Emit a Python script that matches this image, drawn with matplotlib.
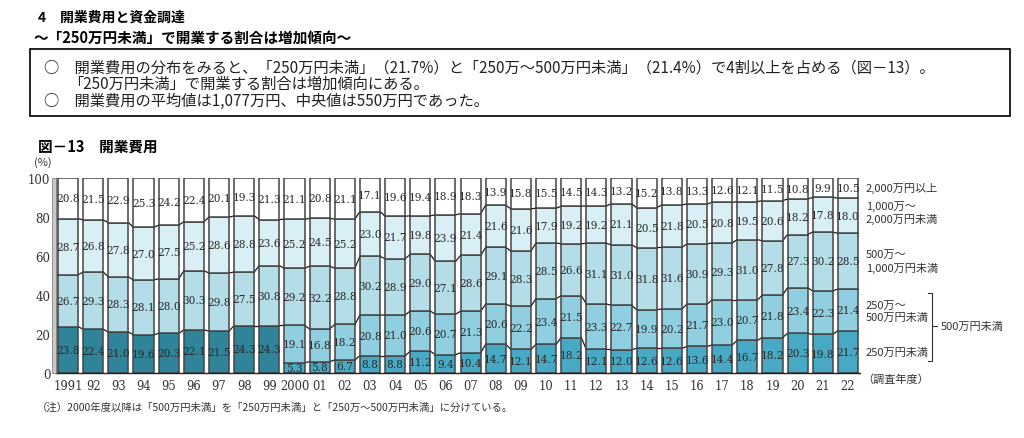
import numpy as np
import matplotlib.pyplot as plt
from matplotlib.lines import Line2D
from matplotlib.patches import Rectangle

plt.rcParams['font.family'] = ['Noto Sans CJK JP', 'DejaVu Sans']

# ---- data (%) ----
year_labels = ['1991', '92', '93', '94', '95', '96', '97', '98', '99', '2000',
               '01', '02', '03', '04', '05', '06', '07', '08', '09', '10',
               '11', '12', '13', '14', '15', '16', '17', '18', '19', '20',
               '21', '22']
# 1991-1999: 500万円未満 (not split)
under500_old = [23.8, 22.4, 21.0, 19.6, 20.3, 22.1, 21.5, 24.3, 24.3]
# 2000-2022
under250 = [5.3, 5.8, 6.7, 8.8, 8.8, 11.2, 9.4, 10.4, 14.7, 12.1, 14.7, 18.2,
            12.1, 12.0, 12.6, 12.6, 13.6, 14.4, 16.7, 18.2, 20.3, 19.8, 21.7]
r250_500 = [19.1, 16.8, 18.2, 20.8, 21.0, 20.6, 20.7, 21.3, 20.6, 22.2, 23.4, 21.5,
            23.3, 22.7, 19.9, 20.2, 21.7, 23.0, 20.7, 21.8, 23.4, 22.3, 21.4]
# 1991-2022
r500_1000 = [26.7, 29.3, 28.3, 28.1, 28.0, 30.3, 29.8, 27.5, 30.8, 29.2, 32.2, 28.8,
             30.2, 28.9, 29.0, 27.1, 28.6, 29.1, 28.3, 28.5, 26.6, 31.1, 31.0, 31.8,
             31.6, 30.9, 29.3, 31.0, 27.8, 27.3, 30.2, 28.5]
r1000_2000 = [28.7, 26.8, 27.8, 27.0, 27.5, 25.2, 28.6, 28.8, 23.6, 25.2, 24.5, 25.2,
              23.0, 21.7, 19.8, 23.9, 21.4, 21.6, 21.6, 17.9, 19.2, 19.2, 21.1, 20.5,
              21.8, 20.5, 20.8, 19.5, 20.6, 18.2, 17.8, 18.0]
over2000 = [20.8, 21.5, 22.9, 25.3, 24.2, 22.4, 20.1, 19.3, 21.3, 21.1, 20.8, 21.1,
            17.1, 19.6, 19.4, 18.9, 18.3, 13.9, 15.8, 15.5, 14.5, 14.3, 13.2, 15.2,
            13.8, 13.3, 12.6, 12.1, 11.5, 10.8, 9.9, 10.5]

n = len(year_labels)
n_old = len(under500_old)
pad_new = [np.nan] * n_old
pad_old = [np.nan] * (n - n_old)

segments = [
    (np.array(under500_old + pad_old), '#2f8499'),
    (np.array(pad_new + under250), '#47a9c3'),
    (np.array(pad_new + r250_500), '#90cfe0'),
    (np.array(r500_1000), '#b5dde8'),
    (np.array(r1000_2000), '#d9eff6'),
    (np.array(over2000), '#ffffff'),
]

W, H = 1024, 439
fig = plt.figure(figsize=(W / 100, H / 100), dpi=100)


def fx(x):
    return x / W


def fy(y):
    return 1 - y / H


ax = fig.add_axes([fx(56), fy(374), fx(860) - fx(56), fy(179) - fy(374)])

x = np.arange(n)
w = 0.8
bottom = np.zeros(n)
tops = []
for vals, col in segments:
    v = np.nan_to_num(vals)
    ax.bar(x, v, w, bottom=bottom, color=col, edgecolor='#444444',
           linewidth=1.1, zorder=2)
    for i in range(n):
        if v[i] > 0:
            ax.text(x[i], bottom[i] + v[i] / 2, f'{v[i]:.1f}', ha='center',
                    va='center', fontsize=7.6, family='DejaVu Serif',
                    color='#2a2a2a', zorder=3)
    bottom = bottom + v
    top = bottom.copy()
    top[np.isnan(vals)] = np.nan
    tops.append(top)

# series connector lines between neighbouring bars
boundary_a = tops[2].copy()
boundary_a[:n_old] = tops[0][:n_old]
for b in [tops[1], boundary_a, tops[3], tops[4]]:
    for i in range(n - 1):
        if np.isfinite(b[i]) and np.isfinite(b[i + 1]):
            ax.plot([x[i] + w / 2, x[i + 1] - w / 2], [b[i], b[i + 1]],
                    color='#1a1a1a', lw=0.9, zorder=1)
    if np.isfinite(b[0]):
        ax.plot([-0.48, x[0] - w / 2], [b[0], b[0]], color='#1a1a1a', lw=0.9,
                zorder=1)

ax.set_xlim(-0.48, n - 0.52)
ax.set_ylim(0, 100)
ax.set_yticks([0, 20, 40, 60, 80, 100])
ax.set_yticklabels(['0', '20', '40', '60', '80', '100'], family='DejaVu Serif',
                   fontsize=8.5, color='#333333')
ax.set_xticks(x)
ax.set_xticklabels(year_labels, family='DejaVu Serif', fontsize=8.3,
                   color='#333333')
ax.tick_params(length=0, pad=4)
for s in ['top', 'right']:
    ax.spines[s].set_visible(False)
for s in ['left', 'bottom']:
    ax.spines[s].set_color('#222222')
    ax.spines[s].set_linewidth(1.0)

# grey side wall
fig.add_artist(Rectangle((fx(52), fy(374)), fx(56) - fx(52), fy(179) - fy(374),
                         transform=fig.transFigure, facecolor='#c9c9c9',
                         edgecolor='#888888', lw=0.6))

# ---- texts ----
fig.text(fx(38), fy(18), '4　開業費用と資金調達', fontsize=10, weight='bold',
         va='center')
fig.text(fx(33), fy(38), '～「250万円未満」で開業する割合は増加傾向～', fontsize=10.5,
         weight='bold', va='center')
fig.add_artist(Rectangle((fx(30), fy(117)), fx(1010) - fx(30), fy(50) - fy(117),
                         transform=fig.transFigure, facecolor='none',
                         edgecolor='#111111', lw=1.3))
fig.text(fx(44), fy(68), '○　開業費用の分布をみると、「250万円未満」（21.7%）と'
         '「250万～500万円未満」（21.4%）で4割以上を占める（図－13）。',
         fontsize=11, va='center', color='#222222')
fig.text(fx(68), fy(84), '「250万円未満」で開業する割合は増加傾向にある。',
         fontsize=11, va='center', color='#222222')
fig.text(fx(44), fy(101), '○　開業費用の平均値は1,077万円、中央値は550万円であった。',
         fontsize=11, va='center', color='#222222')

fig.text(fx(38), fy(147), '図－13　開業費用', fontsize=10.5, weight='bold',
         va='center')
fig.text(fx(34), fy(163), '(%)', fontsize=8, va='center', color='#333333')
fig.text(fx(862), fy(380), '（調査年度）', fontsize=8, va='center',
         color='#333333')
fig.text(fx(37), fy(408), '（注）2000年度以降は「500万円未満」を「250万円未満」と'
         '「250万～500万円未満」に分けている。', fontsize=7.5, va='center',
         color='#333333')

right_labels = [
    (188, '2,000万円以上'),
    (213, '1,000万～\n2,000万円未満'),
    (262, '500万～\n1,000万円未満'),
    (312, '250万～\n500万円未満'),
    (353, '250万円未満'),
]
for yy, t in right_labels:
    fig.text(fx(866), fy(yy), t, fontsize=8, va='center', color='#333333',
             linespacing=1.3)

# bracket for 500万円未満
bx = fx(932)
fig.add_artist(Line2D([fx(928), bx, bx, fx(928)], [fy(294), fy(294), fy(362), fy(362)],
                      transform=fig.transFigure, color='#333333', lw=0.8))
fig.add_artist(Line2D([bx, fx(937)], [fy(327), fy(327)],
                      transform=fig.transFigure, color='#333333', lw=0.8))
fig.text(fx(941), fy(327), '500万円未満', fontsize=8, va='center', color='#333333')

fig.savefig('out.png', dpi=100)
